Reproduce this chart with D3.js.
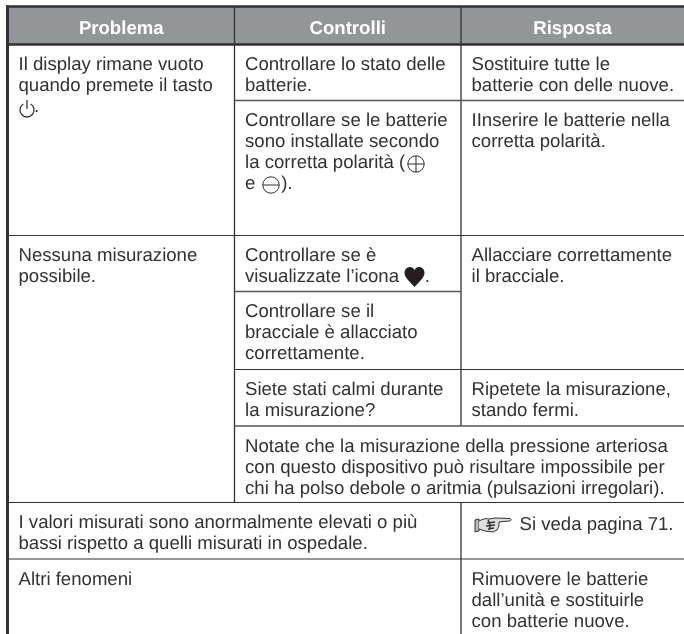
<!DOCTYPE html>
<html><head><meta charset="utf-8">
<script src="https://cdn.jsdelivr.net/npm/d3@7/dist/d3.min.js"></script>
<style>html,body{margin:0;padding:0;background:#fff}svg{display:block;text-rendering:geometricPrecision;filter:blur(0.3px)}</style></head>
<body><div id="c"></div>
<script>
const headers = ["Problema", "Controlli", "Risposta"];
const cellTexts = [
  {col:0,row:0,lines:["Il display rimane vuoto","quando premete il tasto","   ."]},
  {col:1,row:0,lines:["Controllare lo stato delle","batterie."]},
  {col:2,row:0,lines:["Sostituire tutte le","batterie con delle nuove."]},
  {col:1,row:1,lines:["Controllare se le batterie","sono installate secondo","la corretta polarità (","e     )."]},
  {col:2,row:1,lines:["IInserire le batterie nella","corretta polarità."]},
  {col:0,row:2,lines:["Nessuna misurazione","possibile."]},
  {col:1,row:2,lines:["Controllare se è","visualizzate l’icona     ."]},
  {col:2,row:2,lines:["Allacciare correttamente","il bracciale."]},
  {col:1,row:3,lines:["Controllare se il","bracciale è allacciato","correttamente."]},
  {col:1,row:4,lines:["Siete stati calmi durante","la misurazione?"]},
  {col:2,row:4,lines:["Ripetete la misurazione,","stando fermi."]},
  {col:1,row:5,lines:["Notate che la misurazione della pressione arteriosa","con questo dispositivo può risultare impossibile per","chi ha polso debole o aritmia (pulsazioni irregolari)."]},
  {col:0,row:6,lines:["I valori misurati sono anormalmente elevati o più","bassi rispetto a quelli misurati in ospedale."]},
  {col:2,row:6,lines:["Si veda pagina 71."],dx:48,dy:2},
  {col:0,row:7,lines:["Altri fenomeni"]},
  {col:2,row:7,lines:["Rimuovere le batterie","dall’unità e sostituirle","con batterie nuove."]}
];
const hRules = [[1,3,2,"mid"],[0,3,3,"thin"],[1,2,4,"mid"],[1,3,5,"thin"],[1,3,6,"mid"],[0,3,7,"thin"],[0,3,8,"thin"]];
const vRules = [[1,0,7],[2,0,6],[2,7,9]];

const W=684,H=634;
const svg=d3.select("#c").append("svg").attr("width",W).attr("height",H);
const x=d3.scaleOrdinal().domain([0,1,2,3]).range([8,234.5,461,700]);
const y=d3.scaleOrdinal().domain(d3.range(10)).range([7,44,100.5,235.5,291.5,369.5,426,502.5,559,640]);
const ink="#333133", font="'Liberation Sans',Arial,sans-serif", fs=18.6;

svg.append("rect").attr("x",x(0)).attr("y",6).attr("width",W).attr("height",y(1)-6).attr("fill","#939598");
svg.selectAll(".v").data(vRules).join("line").attr("x1",d=>x(d[0])).attr("x2",d=>x(d[0]))
  .attr("y1",d=>y(d[1])).attr("y2",d=>y(d[2])).attr("stroke",ink).attr("stroke-width",1.3);
svg.append("line").attr("x1",6).attr("x2",W).attr("y1",6.5).attr("y2",6.5).attr("stroke",ink).attr("stroke-width",2.5);
svg.append("line").attr("x1",7.5).attr("x2",7.5).attr("y1",5.5).attr("y2",H).attr("stroke",ink).attr("stroke-width",3);
svg.append("line").attr("x1",8).attr("x2",W).attr("y1",44.5).attr("y2",44.5).attr("stroke",ink).attr("stroke-width",2.6);
svg.selectAll(".h").data(hRules).join("line").attr("x1",d=>x(d[0])).attr("x2",d=>x(d[1]))
  .attr("y1",d=>y(d[2])).attr("y2",d=>y(d[2])).attr("stroke",d=>d[3]=="mid"?"#55565a":ink).attr("stroke-width",d=>d[3]=="mid"?1.6:1.2);

svg.selectAll(".hd").data(headers).join("text").attr("x",(d,i)=>(x(i)+(i==2?x(i)+223:x(i+1)))/2).attr("y",33.5)
  .attr("text-anchor","middle").attr("fill","#fff").attr("font-family",font).attr("font-weight",700).attr("font-size",fs).text(d=>d);

const cells=svg.selectAll(".cell").data(cellTexts).join("text").attr("fill",ink).attr("font-family",font).attr("font-size",fs);
cells.each(function(d){
  d3.select(this).selectAll("tspan").data(d.lines).join("tspan")
    .attr("x",x(d.col)+10.5+(d.dx||0))
    .attr("y",(l,i)=>y(d.row+1)+25.5+(d.dy||0)+i*21.1)
    .style("white-space","pre").text(l=>l);
});

const icon=svg.append("g").attr("fill","none").attr("stroke",ink);
const p=icon.append("g").attr("transform","translate(27,110)").attr("stroke-width",1.3);
p.append("path").attr("d",d3.arc()({innerRadius:7,outerRadius:7,startAngle:0.55,endAngle:2*Math.PI-0.55}));
p.append("line").attr("y1",-10).attr("y2",-1);
const pl=icon.append("g").attr("transform","translate(416,164)").attr("stroke-width",1);
pl.append("circle").attr("r",8.2);pl.append("line").attr("x1",-8.2).attr("x2",8.2);pl.append("line").attr("y1",-8.2).attr("y2",8.2);
const mi=icon.append("g").attr("transform","translate(271,185)").attr("stroke-width",1);
mi.append("circle").attr("r",8.2);mi.append("line").attr("x1",-8.2).attr("x2",8.2);
svg.append("path").attr("transform","translate(414.5,276)").attr("fill","#231f20")
  .attr("d","M0,11 C-4,6 -10,2 -10,-3 C-10,-7 -7,-9 -4.5,-9 C-2.5,-9 -1,-8 0,-6 C1,-8 2.5,-9 4.5,-9 C7,-9 10,-7 10,-3 C10,2 4,6 0,11 Z");
const h=svg.append("g").attr("transform","translate(475,517)").attr("fill","none").attr("stroke",ink).attr("stroke-width",1);
h.append("path").attr("d","M0,3 L4,2 L4,14 L0,15 Z").attr("fill","#bbb");
h.append("path").attr("d","M4,4 C8,2 11,1 14,2 L20,1 L35,1.5 C37,2.5 36,4 34,4 L24,5 L24,9 L22,13 L18,15 L10,14 L4,12").attr("fill","#ddd");
h.append("path").attr("d","M12,6 L20,5 M11,9 L20,8 M13,12 L19,11 M13,3 C15,6 16,9 14,13").attr("stroke-width",1.4);
</script></body></html>
